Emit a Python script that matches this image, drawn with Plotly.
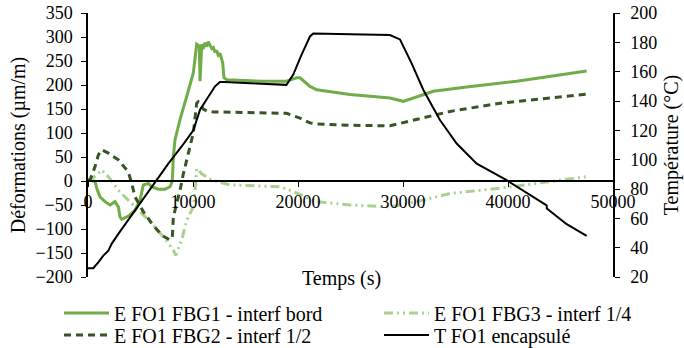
import plotly.graph_objects as go

# ---- data ----
t_fbg1 = [0, 190, 670, 830, 1140, 1620, 2100, 2570, 2890, 3050, 3210, 3840, 4480, 4950, 5270, 5750,
          6060, 6700, 7330, 7810, 8030, 8130, 8290, 8440, 8760, 9400, 10030, 10350, 10600, 10670,
          10830, 10950, 11140, 11300, 11450, 11620, 11800, 11940, 12100, 12250, 12400, 12570, 12830,
          12950, 13210, 16380, 18900, 19870, 20190, 21140, 21780, 24950, 28760, 30030, 32890, 36060,
          40830, 47490]
e_fbg1 = [2, 2, -1, -15, -33, -43, -50, -43, -54, -75, -80, -73, -61, -40, -8, -5,
          -12, -17, -17, -12, 0, 51, 86, 100, 128, 176, 225, 285, 281, 208,
          285, 275, 288, 280, 290, 283, 276, 278, 268, 272, 262, 266, 246,
          215, 211, 208, 208, 215, 215, 197, 190, 180, 173, 166, 187, 196,
          208, 229]

t_fbg2 = [0, 190, 670, 980, 1300, 1940, 2890, 3840, 4160, 4480, 5270, 6060, 7020, 7810, 8030, 8130,
          8440, 8760, 9080, 9400, 9710, 10030, 10350, 10500, 10980, 11300, 11940, 15000, 18900, 20190,
          21140, 21780, 25000, 28760, 31300, 34480, 39240, 47490]
e_fbg2 = [2, 2, 30, 54, 65, 58, 44, 19, -5, -33, -64, -88, -113, -123, -117, -75,
          -47, -20, 15, 45, 68, 100, 162, 165, 150, 146, 144, 143, 141, 131,
          121, 119, 116, 115, 128, 145, 162, 181]

t_fbg3 = [0, 190, 980, 1300, 1940, 2890, 3840, 4790, 6060, 7330, 8130, 8350, 8920, 9400, 10030, 10200,
          10350, 10510, 10830, 11780, 13520, 18290, 19550, 21780, 24950, 28760, 31300, 34480, 39240,
          47490]
e_fbg3 = [0, 2, 16, 23, 9, -19, -40, -61, -88, -120, -144, -155, -123, -82, -54, -20,
          26, 23, 15, 2, -8, -12, -22, -43, -50, -54, -43, -26, -15, 9]

t_temp = [0, 500, 980, 1460, 1940, 2250, 2890, 4480, 6060, 7650, 8920, 10030, 10670, 11300, 12100,
          12570, 13000, 16000, 18900, 19550, 20300, 21140, 21460, 25000, 28760, 29710, 30800, 31940,
          33520, 35110, 37020, 39870, 42410, 43680, 43700, 45590, 47490]
temp = [26, 26, 30, 34.6, 38, 42.6, 49.4, 65.4, 81.3, 97.3, 109, 120, 134, 141, 150,
        153, 153, 152, 151, 158, 171, 184, 186, 185.5, 185, 182, 166, 147.5,
        127, 111, 97.3, 86, 74.5, 68.8, 66.7, 56, 48]

names = ["E FO1 FBG1 - interf bord", "E FO1 FBG2 - interf 1/2",
         "E FO1 FBG3 - interf 1/4", "T FO1 encapsulé"]

x_ticks = [0, 10000, 20000, 30000, 40000, 50000]

FONT = "Liberation Serif"

fig = go.Figure()
fig.add_trace(go.Scatter(x=t_fbg1, y=e_fbg1, mode="lines", name=names[0],
                         line=dict(color="#70AD47", width=3), legend="legend"))
fig.add_trace(go.Scatter(x=t_fbg3, y=e_fbg3, mode="lines", name=names[2],
                         line=dict(color="#A9D18E", width=3, dash="9px,4px,2px,4px,2px,4px"),
                         legend="legend2"))
fig.add_trace(go.Scatter(x=t_fbg2, y=e_fbg2, mode="lines", name=names[1],
                         line=dict(color="#375623", width=3, dash="7px,5px"), legend="legend3"))
fig.add_trace(go.Scatter(x=t_temp, y=temp, mode="lines", name=names[3], yaxis="y2",
                         line=dict(color="#000000", width=2), legend="legend4"))

leg_common = dict(font=dict(family=FONT, size=20, color="black"), bgcolor="rgba(0,0,0,0)",
                  orientation="v", xanchor="left", yanchor="middle", itemwidth=45,
                  traceorder="normal")
row1 = (277 - 313) / 264
row2 = (277 - 335) / 264
colx1 = (59 - 88) / 525
colx2 = (379 - 88) / 525

fig.update_layout(
    width=684, height=348,
    margin=dict(l=88, r=71, t=13, b=71, autoexpand=False),
    paper_bgcolor="white", plot_bgcolor="white",
    font=dict(family=FONT, size=18, color="black"),
    showlegend=True,
    legend=dict(x=colx1, y=row1, **leg_common),
    legend2=dict(x=colx2, y=row1, **leg_common),
    legend3=dict(x=colx1, y=row2, **leg_common),
    legend4=dict(x=colx2, y=row2, **leg_common),
    xaxis=dict(range=[0, 50000], tickvals=x_ticks, ticktext=[str(v) for v in x_ticks],
               anchor="free", position=200 / 550,
               showline=True, linecolor="black", linewidth=1.5,
               ticks="outside", ticklen=5, tickcolor="black",
               showgrid=False, zeroline=False,
               tickfont=dict(family=FONT, size=18, color="black")),
    yaxis=dict(range=[-200, 350], dtick=50, showline=True, linecolor="black", linewidth=1.5,
               ticks="outside", ticklen=5, tickcolor="black", showgrid=False, zeroline=False,
               ticklabelstandoff=5,
               tickfont=dict(family=FONT, size=18, color="black"),
               title=dict(text="Déformations (µm/m)", font=dict(family=FONT, size=20, color="black"),
                          standoff=4)),
    yaxis2=dict(range=[20, 200], dtick=20, overlaying="y", side="right",
                showline=True, linecolor="black", linewidth=1.5,
                ticks="outside", ticklen=5, tickcolor="black", showgrid=False, zeroline=False,
                ticklabelstandoff=7,
                tickfont=dict(family=FONT, size=18, color="black"),
                title=dict(text="Température (°C)", font=dict(family=FONT, size=20, color="black"),
                           standoff=8)),
    annotations=[dict(text="Temps (s)", xref="paper", yref="paper",
                      x=(341 - 88) / 525, y=(277 - 278) / 264, xanchor="center", yanchor="middle",
                      showarrow=False, font=dict(family=FONT, size=20, color="black"))],
)

fig.write_html("out.html", config={"displayModeBar": False},
               post_script="document.body.style.margin='0';document.body.style.padding='0';")
